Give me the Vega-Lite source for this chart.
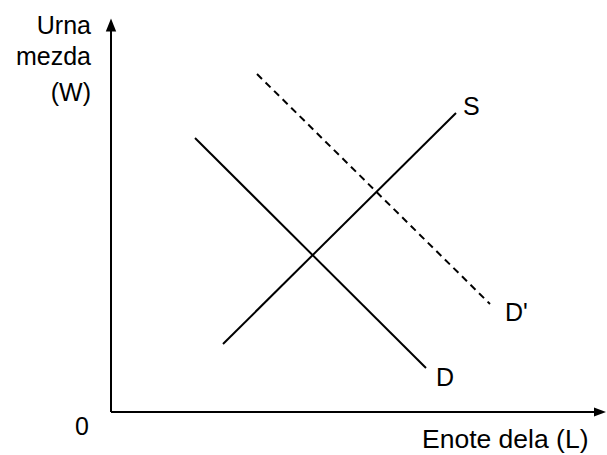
{
  "$schema": "https://vega.github.io/schema/vega-lite/v6.json",
  "width": 607,
  "height": 455,
  "padding": 0,
  "autosize": {"type": "fit", "contains": "padding"},
  "background": "white",
  "config": {"view": {"stroke": null}},
  "datasets": {
    "axes": [
      {"id": "yaxis", "x": 0, "y": 0},
      {"id": "yaxis", "x": 0, "y": 386},
      {"id": "xaxis", "x": 0, "y": 0},
      {"id": "xaxis", "x": 489, "y": 0}
    ],
    "arrows": [
      {"dir": "up", "x": 0, "y": 387},
      {"dir": "right", "x": 489, "y": 0}
    ],
    "curves": [
      {"id": "D", "x": 84, "y": 274},
      {"id": "D", "x": 315, "y": 44},
      {"id": "S", "x": 112, "y": 68},
      {"id": "S", "x": 345, "y": 299},
      {"id": "D'", "x": 146, "y": 338},
      {"id": "D'", "x": 379, "y": 108}
    ],
    "labelsLeft": [
      {"t": "S", "x": 352, "y": 297, "s": 25},
      {"t": "D", "x": 325, "y": 26, "s": 25},
      {"t": "D'", "x": 394, "y": 91, "s": 25},
      {"t": "0", "x": -36, "y": -23, "s": 25},
      {"t": "Enote dela (L)", "x": 311, "y": -36, "s": 26.5}
    ],
    "labelsRight": [
      {"t": "Urna", "x": -20, "y": 378},
      {"t": "mezda", "x": -20, "y": 347},
      {"t": "(W)", "x": -20, "y": 311}
    ]
  },
  "encoding": {
    "x": {"field": "x", "type": "quantitative", "scale": {"domain": [-111, 496], "zero": false, "nice": false}, "axis": null},
    "y": {"field": "y", "type": "quantitative", "scale": {"domain": [-43, 412], "zero": false, "nice": false}, "axis": null}
  },
  "layer": [
    {
      "data": {"name": "axes"},
      "mark": {"type": "line", "color": "black", "strokeWidth": 2},
      "encoding": {"detail": {"field": "id"}}
    },
    {
      "data": {"name": "curves"},
      "transform": [{"filter": "datum.id !== \"D'\""}],
      "mark": {"type": "line", "color": "black", "strokeWidth": 2},
      "encoding": {"detail": {"field": "id"}}
    },
    {
      "data": {"name": "curves"},
      "transform": [{"filter": "datum.id === \"D'\""}],
      "mark": {"type": "line", "color": "black", "strokeWidth": 2, "strokeDash": [7, 5]},
      "encoding": {"detail": {"field": "id"}}
    },
    {
      "data": {"name": "arrows"},
      "transform": [{"filter": "datum.dir === 'up'"}],
      "mark": {"type": "point", "filled": true, "color": "black", "opacity": 1, "size": 169, "shape": "M0,-1L0.8,1L-0.8,1Z"}
    },
    {
      "data": {"name": "arrows"},
      "transform": [{"filter": "datum.dir === 'right'"}],
      "mark": {"type": "point", "filled": true, "color": "black", "opacity": 1, "size": 144, "shape": "M1,0L-1,0.75L-1,-0.75Z"}
    },
    {
      "data": {"name": "labelsLeft"},
      "mark": {"type": "text", "align": "left", "baseline": "alphabetic", "font": "Liberation Sans", "color": "black"},
      "encoding": {"text": {"field": "t"}, "size": {"field": "s", "type": "quantitative", "scale": null}}
    },
    {
      "data": {"name": "labelsRight"},
      "mark": {"type": "text", "align": "right", "baseline": "alphabetic", "font": "Liberation Sans", "fontSize": 25, "color": "black"},
      "encoding": {"text": {"field": "t"}}
    }
  ]
}
